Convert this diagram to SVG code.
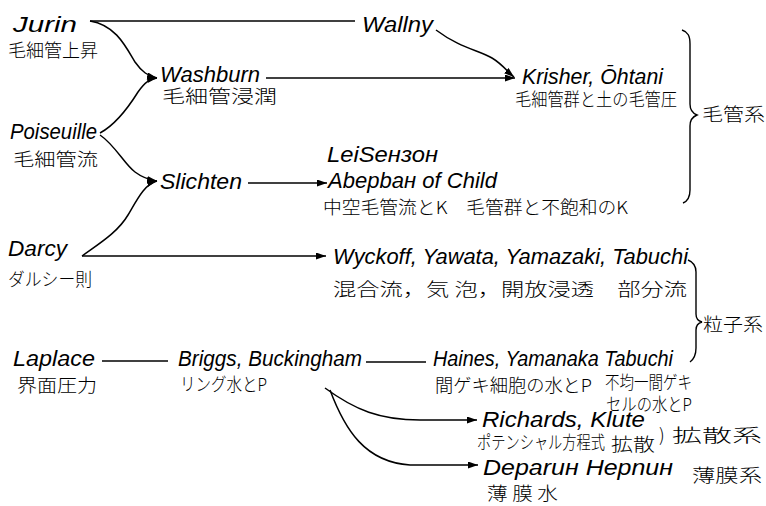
<svg xmlns="http://www.w3.org/2000/svg" width="766" height="506" viewBox="0 0 766 506">
<style>
.lat{font-family:"Liberation Sans","DejaVu Sans",sans-serif;font-style:italic;font-size:22px;fill:#000}
.jp{font-family:"Noto Sans CJK JP","Noto Sans",sans-serif;font-size:18px;font-weight:300;fill:#000}
.ln{fill:none;stroke:#000;stroke-width:1.5}
.br{fill:none;stroke:#000;stroke-width:1.4}
</style>
<defs>
<marker id="ah" markerUnits="userSpaceOnUse" markerWidth="11" markerHeight="8" refX="10" refY="3.5" orient="auto">
<path d="M0,0 L10,3.5 L0,7 z" fill="#000"/>
</marker>
</defs>
<rect width="766" height="506" fill="#fff"/>

<g id="connectors">
<path class="ln" d="M90,21 H355"/>
<path class="ln" d="M90,21 C115,25 125,45 135,62 C142,72 148,76 157,78" marker-end="url(#ah)"/>
<path class="ln" d="M100,133 C115,125 128,108 138,92 C145,82 150,79 157,78" marker-end="url(#ah)"/>
<path class="ln" d="M100,135 C115,145 125,165 135,172 C143,178 150,180 157,181" marker-end="url(#ah)"/>
<path class="ln" d="M82,256 C100,243 118,232 128,215 C138,198 145,184 157,181" marker-end="url(#ah)"/>
<path class="ln" d="M82,256 H326" marker-end="url(#ah)"/>
<path class="ln" d="M266,78 H515" marker-end="url(#ah)"/>
<path class="ln" d="M436,30 C460,48 478,50 492,58 C502,64 508,72 514,77" marker-end="url(#ah)"/>
<path class="ln" d="M248,183 H327" marker-end="url(#ah)"/>
<path class="ln" d="M102,361 H168"/>
<path class="ln" d="M366,362 H426"/>
<path class="ln" d="M325,388 C355,410 380,420 420,420 L477,420" marker-end="url(#ah)"/>
<path class="ln" d="M330,390 C345,430 365,462 410,465 L478,465" marker-end="url(#ah)"/>
</g>

<g id="braces">
<path class="br" d="M682,30 C688,32 690,36 690,44 V104 C690,110 692,113 697,115 C692,117 690,120 690,126 V190 C690,197 688,201 683,203"/>
<path class="br" d="M688,260 C693,262 696,266 696,272 V314 C696,318 698,321 702,322 C698,323 696,326 696,330 V348 C696,354 694,359 690,362"/>
</g>

<g id="jurin"><text class="lat" x="13" y="32" font-size="24" textLength="64" lengthAdjust="spacingAndGlyphs">Jurin</text>
<text class="jp" x="8" y="57" font-size="19" textLength="90" lengthAdjust="spacingAndGlyphs">毛細管上昇</text></g>

<g id="wallny"><text class="lat" x="362" y="32" textLength="71" lengthAdjust="spacingAndGlyphs">Wallny</text></g>

<g id="washburn"><text class="lat" x="160" y="82" textLength="100" lengthAdjust="spacingAndGlyphs">Washburn</text>
<text class="jp" x="162" y="103" font-size="19" textLength="115" lengthAdjust="spacingAndGlyphs">毛細管浸潤</text></g>

<g id="krisher"><text class="lat" x="522" y="84" textLength="141" lengthAdjust="spacingAndGlyphs">Krisher, Ōhtani</text>
<text class="jp" x="515" y="106" textLength="162" lengthAdjust="spacingAndGlyphs">毛細管群と土の毛管圧</text></g>

<g id="mokankei"><text class="jp" x="702" y="121" font-size="21" textLength="63" lengthAdjust="spacingAndGlyphs">毛管系</text></g>

<g id="poiseuille"><text class="lat" x="10" y="139" textLength="87" lengthAdjust="spacingAndGlyphs">Poiseuille</text>
<text class="jp" x="13" y="166" font-size="20" textLength="85" lengthAdjust="spacingAndGlyphs">毛細管流</text></g>

<g id="slichten"><text class="lat" x="160" y="189" textLength="82" lengthAdjust="spacingAndGlyphs">Slichten</text></g>

<g id="leibenzon"><text class="lat" x="327" y="162" textLength="111" lengthAdjust="spacingAndGlyphs">LeiSeнзон</text>
<text class="lat" x="328" y="188" textLength="169" lengthAdjust="spacingAndGlyphs">Abepbaн of  Child</text>
<text class="jp" x="323" y="214" textLength="305" lengthAdjust="spacingAndGlyphs">中空毛管流とK　毛管群と不飽和のK</text></g>

<g id="darcy"><text class="lat" x="8" y="256" textLength="59" lengthAdjust="spacingAndGlyphs">Darcy</text>
<text class="jp" x="8" y="286" textLength="84" lengthAdjust="spacingAndGlyphs">ダルシー則</text></g>

<g id="wyckoff"><text class="lat" x="333" y="264" textLength="355" lengthAdjust="spacingAndGlyphs">Wyckoff, Yawata, Yamazaki, Tabuchi</text>
<text class="jp" x="333" y="296" font-size="19" textLength="354" lengthAdjust="spacingAndGlyphs">混合流，気 泡，開放浸透　部分流</text></g>

<g id="ryushikei"><text class="jp" x="703" y="331" font-size="20" textLength="60" lengthAdjust="spacingAndGlyphs">粒子系</text></g>

<g id="laplace"><text class="lat" x="13" y="366" textLength="82" lengthAdjust="spacingAndGlyphs">Laplace</text>
<text class="jp" x="17" y="392" font-size="20" textLength="80" lengthAdjust="spacingAndGlyphs">界面圧力</text></g>

<g id="briggs"><text class="lat" x="178" y="366" textLength="184" lengthAdjust="spacingAndGlyphs">Briggs, Buckingham</text>
<text class="jp" x="180" y="391" font-size="17" textLength="87" lengthAdjust="spacingAndGlyphs">リング水とP</text></g>

<g id="haines"><text class="lat" x="433" y="366" textLength="240" lengthAdjust="spacingAndGlyphs">Haines, Yamanaka Tabuchi</text>
<text class="jp" x="435" y="392" font-size="17" textLength="157" lengthAdjust="spacingAndGlyphs">間ゲキ細胞の水とP</text>
<text class="jp" x="605" y="389" font-size="13.5" textLength="87" lengthAdjust="spacingAndGlyphs">不均一間ゲキ</text>
<text class="jp" x="606" y="411" font-size="13.5" textLength="86" lengthAdjust="spacingAndGlyphs">セルの水とP</text></g>

<g id="richards"><text class="lat" x="482" y="427" font-size="20" textLength="163" lengthAdjust="spacingAndGlyphs">Richards,  Klute</text>
<text class="jp" x="477" y="449" font-size="13" textLength="128" lengthAdjust="spacingAndGlyphs">ポテンシャル方程式</text>
<text class="jp" x="611" y="451" font-size="16" textLength="44" lengthAdjust="spacingAndGlyphs">拡散</text></g>

<g id="kakusankei"><text class="jp" x="659" y="442" font-size="20">)</text>
<text class="jp" x="672" y="442" font-size="20" textLength="90" lengthAdjust="spacingAndGlyphs">拡散系</text></g>

<g id="deryagin"><text class="lat" x="483" y="475" font-size="21" textLength="190" lengthAdjust="spacingAndGlyphs">Deparuн  Hepnuн</text>
<text class="jp" x="487" y="500" font-size="18" textLength="71" lengthAdjust="spacingAndGlyphs">薄 膜 水</text></g>

<g id="hakumakukei"><text class="jp" x="692" y="482" font-size="21" textLength="70" lengthAdjust="spacingAndGlyphs">薄膜系</text></g>
</svg>
